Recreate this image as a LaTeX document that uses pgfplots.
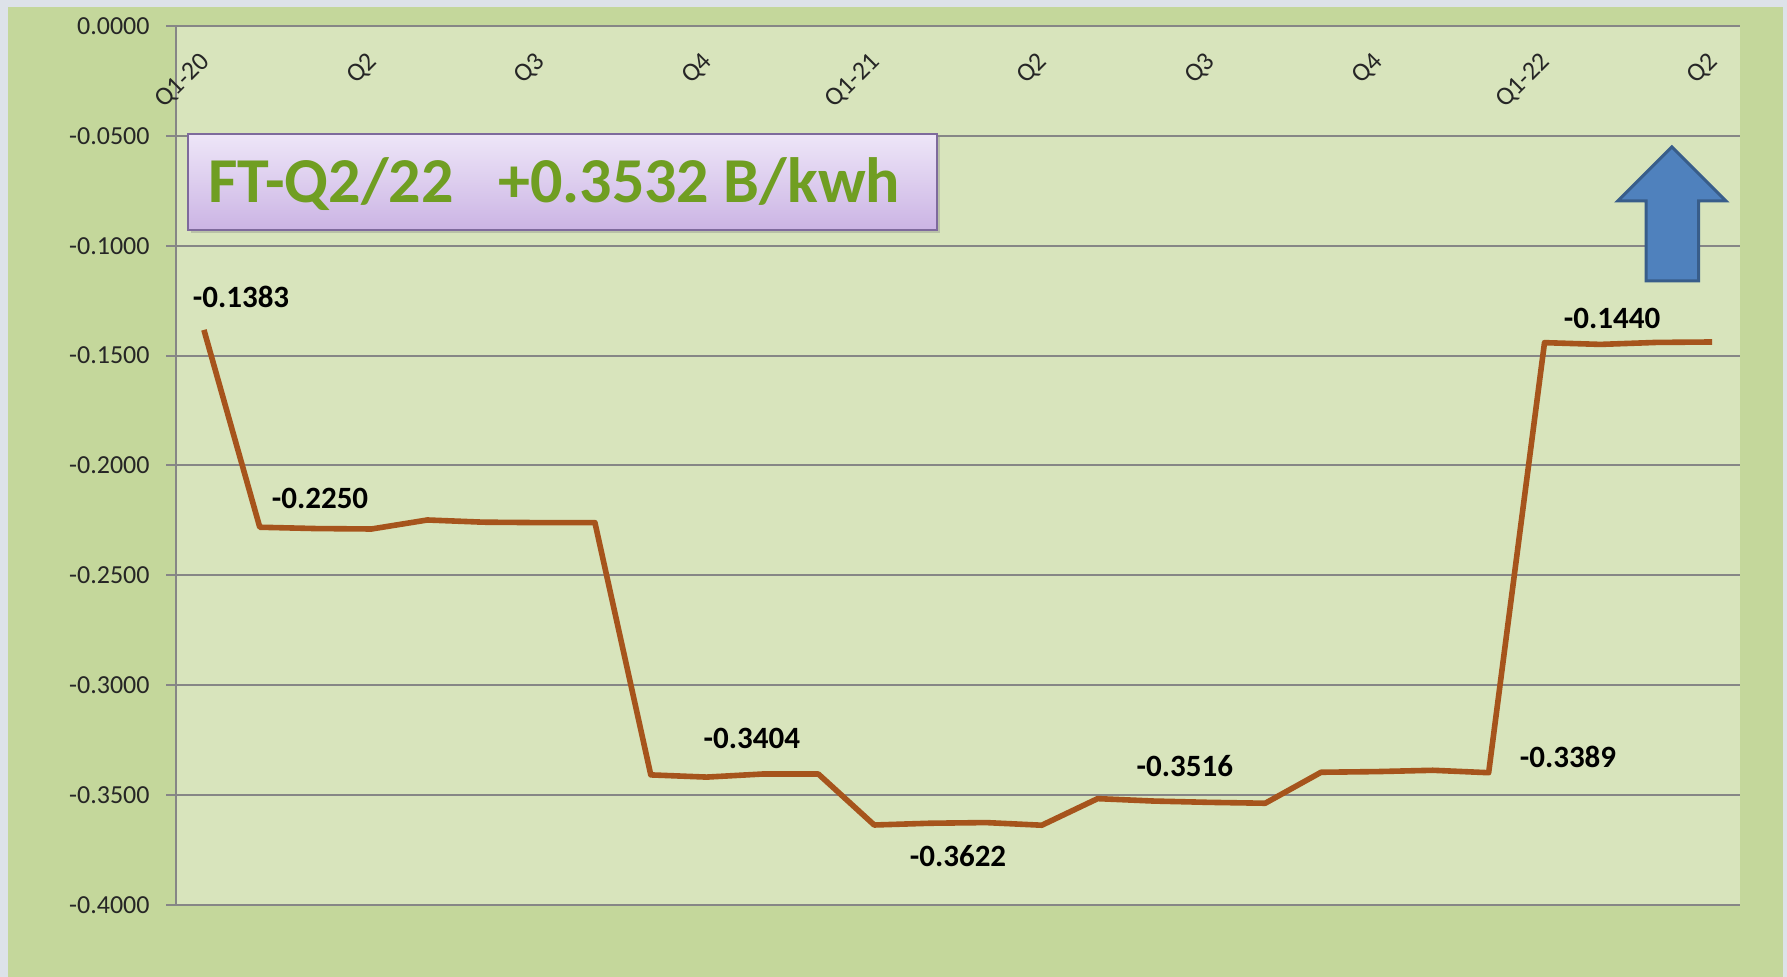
\documentclass[border=0pt]{standalone}
\usepackage{fontspec}
\setmainfont{Carlito}
\usepackage{pgfplots}
\pgfplotsset{compat=1.18}
\usetikzlibrary{shadows}
\definecolor{framebg}{HTML}{DDE2E9}
\definecolor{outerbg}{HTML}{C4D79B}
\definecolor{plotbg}{HTML}{D8E4BC}
\definecolor{gridc}{HTML}{868686}
\definecolor{linec}{RGB}{166,84,28}
\definecolor{boxtop}{HTML}{EEE6F8}
\definecolor{boxbot}{HTML}{CBB4E4}
\definecolor{boxedge}{HTML}{7E6A9C}
\definecolor{txtgreen}{RGB}{112,158,34}
\definecolor{arrowfill}{HTML}{4F81BD}
\definecolor{arrowedge}{HTML}{385D8A}
\begin{document}
\begin{tikzpicture}
\fill[framebg] (0,0) rectangle (893.5pt,488.5pt);
\fill[outerbg] (4pt,0) rectangle (891.5pt,485pt);
\begin{axis}[
  at={(88pt,36pt)}, anchor=south west,
  scale only axis, width=782pt, height=439.5pt,
  xmin=-0.5, xmax=27.5, ymin=-0.4, ymax=0,
  axis background/.style={fill=plotbg},
  axis x line*=top, axis y line*=left,
  axis line style={gridc, line width=1pt, -},
  ymajorgrids, major grid style={gridc, line width=1pt},
  ytick={-0.4,-0.35,-0.3,-0.25,-0.2,-0.15,-0.1,-0.05,0},
  yticklabels={-0.4000,-0.3500,-0.3000,-0.2500,-0.2000,-0.1500,-0.1000,-0.0500,0.0000},
  xtick={0,3,...,27},
  xticklabels={Q1-20,Q2,Q3,Q4,Q1-21,Q2,Q3,Q4,Q1-22,Q2},
  tick align=outside, major tick length=5pt,
  ytick style={gridc, line width=1pt},
  xtick style={draw=none},
  ticklabel style={font=\fontsize{13}{15}\selectfont, text=black!85},
  yticklabel style={anchor=east, inner sep=0pt, xshift=-8pt},
  xticklabel style={xshift=1pt, yshift=-21pt, rotate=45, anchor=east, inner sep=0pt},
  clip=false,
]
\addplot[linec, line width=2.8pt, line join=round] table {
x y
0 -0.1383
1 -0.2281
2 -0.2287
3 -0.2289
4 -0.2248
5 -0.2258
6 -0.2260
7 -0.2260
8 -0.3408
9 -0.3418
10 -0.3404
11 -0.3404
12 -0.3636
13 -0.3628
14 -0.3625
15 -0.3637
16 -0.3516
17 -0.3527
18 -0.3533
19 -0.3537
20 -0.3396
21 -0.3393
22 -0.3387
23 -0.3398
24 -0.1441
25 -0.1449
26 -0.1440
27 -0.1438
};
\begin{scope}[every node/.style={font=\bfseries\fontsize{15.5}{18}\selectfont, text=black}]
\node at (axis cs:0.664,-0.1233) {-0.1383};
\node at (axis cs:2.078,-0.2148) {-0.2250};
\node at (axis cs:9.81,-0.3240) {-0.3404};
\node at (axis cs:13.5,-0.3777) {-0.3622};
\node at (axis cs:17.56,-0.3367) {-0.3516};
\node at (axis cs:24.42,-0.3327) {-0.3389};
\node at (axis cs:25.21,-0.1329) {-0.1440};
\end{scope}
\draw[top color=boxtop, bottom color=boxbot, draw=boxedge, line width=1pt,
  drop shadow={shadow xshift=1.5pt, shadow yshift=-1.5pt, opacity=0.35}]
  (axis cs:-0.285,-0.0492) rectangle (axis cs:13.12,-0.0928);
\node[anchor=base west, inner sep=0pt, text=txtgreen, font=\bfseries\fontsize{32}{36}\selectfont]
  at (axis cs:0.073,-0.0805) {FT-Q2/22\hspace{0.7em}+0.3532 B/kwh};
\draw[fill=arrowfill, draw=arrowedge, line width=1.5pt, line join=miter]
  (axis cs:26.28,-0.05506) -- (axis cs:27.25,-0.07964) -- (axis cs:26.76,-0.07964)
  -- (axis cs:26.76,-0.11604) -- (axis cs:25.82,-0.11604) -- (axis cs:25.82,-0.07964)
  -- (axis cs:25.31,-0.07964) -- cycle;
\end{axis}
\pgfresetboundingbox
\path[use as bounding box] (0,0) rectangle (893.5pt,488.5pt);
\end{tikzpicture}
\end{document}
